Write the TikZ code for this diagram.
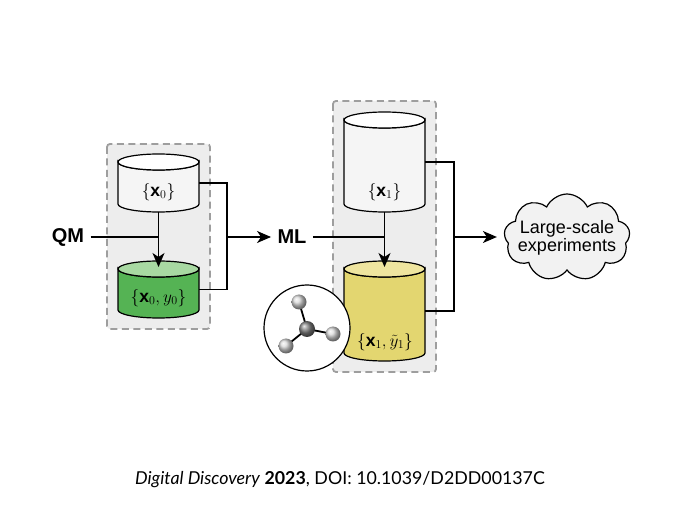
\documentclass[tikz,border=0pt]{standalone}
\usepackage{fontspec}
\setmainfont{Liberation Sans}
\newfontfamily\captionfont{Lato}
\usetikzlibrary{arrows.meta,shapes.symbols}
\tikzset{
    database/.style={draw=black, line width=1.2pt},
    dbanchor/.style={minimum width=81pt, inner sep=0pt, outer sep=0pt},
    setbox/.style={draw=black!38, fill=black!7, line width=1.8pt, dash pattern=on 7pt off 4.5pt, rounded corners=3pt},
    setlabel/.style={font=\fontsize{17.5}{20}\selectfont},
    method/.style={font=\fontsize{20}{22}\bfseries\selectfont},
    link/.style={line width=1.2pt},
    flow/.style={line width=1.2pt, -{Stealth[length=14pt,width=12pt,inset=4pt]}},
    atom/.style={circle, shading=ball, ball color=black!15, minimum size=15pt, inner sep=0pt},
}
\definecolor{dbgreen}{HTML}{55B354}
\definecolor{dbgreenend}{HTML}{A8D9A2}
\definecolor{dbyellow}{HTML}{E3D670}
\definecolor{dbyellowend}{HTML}{EFE59F}
% name, centre x, top y, bottom y, body colour, end colour
\newcommand{\database}[6]{
    \draw[database, fill=#5] (#2-40.5,#3+8) arc[start angle=180, end angle=360, x radius=40.5pt, y radius=8pt] -- (#2+40.5,#4-8) arc[start angle=360, end angle=180, x radius=40.5pt, y radius=8pt] -- cycle;
    \draw[database, fill=#6] (#2,#3+8) ellipse[x radius=40.5pt, y radius=8pt];
    \node[dbanchor, minimum height=#4pt-#3pt] (#1) at (#2,#3/2+#4/2) {};
}
\begin{document}
\begin{tikzpicture}[x=1pt,y=-1pt]
    \useasboundingbox (0,0) rectangle (680,510);
    % Dashed groups
    \fill[white] (0,0) rectangle (680,510);
    \draw[setbox] (107,144) rectangle (210,329);
    \draw[setbox] (333,101) rectangle (436,372);
    % Left-hand databases
    \database{dbx0}{158.5}{154}{212}{black!4}{white}
    \node[setlabel] (labelx0) at (158.5,192) {$\{\mathbf{x}_0\}$};
    \database{dby0}{158.5}{261}{318}{dbgreen}{dbgreenend}
    \node[setlabel] (labely0) at (158.5,298) {$\{\mathbf{x}_0,y_0\}$};
    % Right-hand databases
    \database{dbx1}{384.5}{112}{212}{black!4}{white}
    \node[setlabel] (labelx1) at (384.5,192) {$\{\mathbf{x}_1\}$};
    \database{dby1}{384.5}{261}{361}{dbyellow}{dbyellowend}
    \node[setlabel, inner sep=0pt] (labely1) at (385,342) {$\{\mathbf{x}_1,\tilde{y}_1\}$};
    % Methods and outcome
    \node[method] (qm) at (68,237) {QM};
    \node[method] (ml) at (292,237) {ML};
    \node[draw=black, fill=black!5, line width=1.2pt, cloud, cloud puffs=9, cloud puff arc=130, cloud ignores aspect, minimum width=126pt, minimum height=87pt, inner sep=0pt, outer sep=0pt] (exp) at (567,237.5) {};
    \node[align=center, font=\fontsize{18}{16.5}\selectfont] (explabel) at (exp.center) {Large-scale\\experiments};
    % Left-hand arrows
    \draw[flow] (dbx0.south) -- (dbx0.south |- 0,267);
    \draw[link] (qm.east) ++(3,0) -- (qm.east -| dbx0.south);
    \draw[link] (dbx0.east) -- ++(28,0) |- (dby0.east);
    \draw[flow, shorten >=3pt] (227,237) coordinate (joinleft) -- (ml.west);
    % Right-hand arrows
    \draw[flow] (dbx1.south) -- (dbx1.south |- 0,267);
    \draw[link] (ml.east) ++(3,0) -- (ml.east -| dbx1.south);
    \draw[link] (dbx1.east) -- ++(29,0) |- (dby1.east);
    \draw[flow, shorten >=8pt] (454,237) coordinate (joinright) -- (joinright -| exp.west);
    % Molecule
    \node[circle, draw=black, fill=white, line width=1.2pt, minimum size=86pt, inner sep=0pt] (lens) at (307,328) {};
    \coordinate (carbonpos) at (307,329);
    \draw[link, line width=1.8pt] (carbonpos) -- (299,302);
    \draw[link, line width=1.8pt] (carbonpos) -- (333,334);
    \draw[link, line width=1.8pt] (carbonpos) -- (286,346);
    \node[atom, ball color=black!50, minimum size=16pt] (carbon) at (carbonpos) {};
    \node[atom] (atomtop) at (299,302) {};
    \node[atom] (atomright) at (333,334) {};
    \node[atom] (atomleft) at (286,346) {};
    % Citation
    \node[font=\captionfont\fontsize{17.8}{20}\selectfont] (citation) at (340,480) {\textit{Digital Discovery} \textbf{2023}, DOI: 10.1039/D2DD00137C};
\end{tikzpicture}
\end{document}
